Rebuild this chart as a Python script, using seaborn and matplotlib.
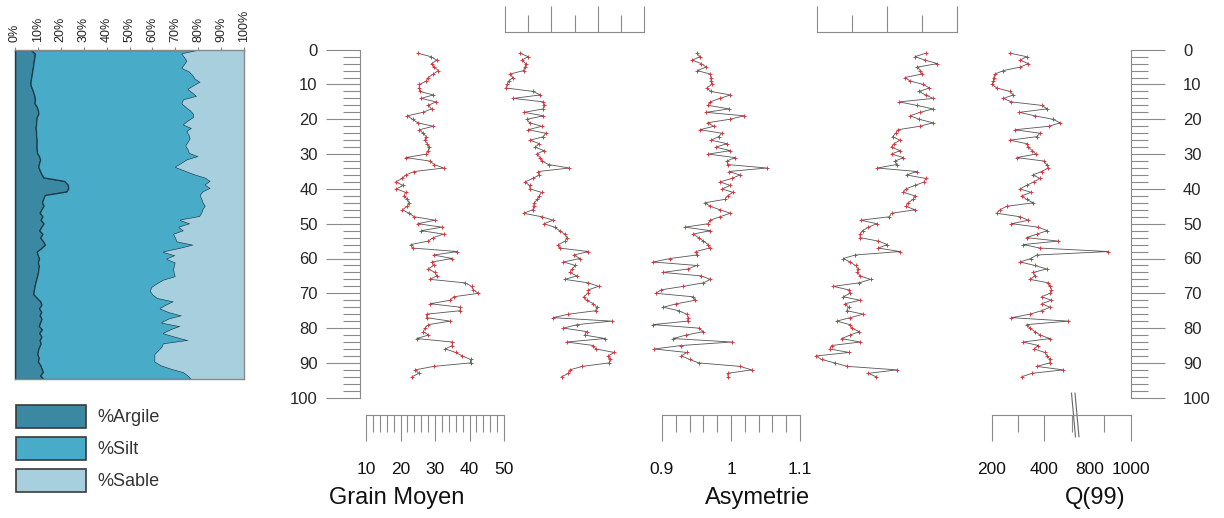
import numpy as np
import pandas as pd
import seaborn as sns
import matplotlib.pyplot as plt
from matplotlib.patches import Patch
from matplotlib.ticker import MultipleLocator

# profondeur des echantillons (cm)
profondeur = [1, 2, 3, 4, 5, 6, 7, 8, 9, 10, 11, 12, 13, 14, 15, 16, 17, 18, 19, 20,
              21, 22, 23, 24, 25, 26, 27, 28, 29, 30, 31, 32, 33, 34, 35, 36, 37, 38, 39, 40,
              41, 42, 43, 44, 45, 46, 47, 48, 49, 50, 51, 52, 53, 54, 55, 56, 57, 58, 59, 60,
              61, 62, 63, 64, 65, 66, 67, 68, 69, 70, 71, 72, 73, 74, 75, 76, 77, 78, 79, 80,
              81, 82, 83, 84, 85, 86, 87, 88, 89, 90, 91, 92, 93, 94]

# granulometrie (%)
argile = [7.0, 8.7, 8.5, 8.2, 8.0, 7.8, 7.5, 7.3, 7.0, 6.8,
          6.8, 7.5, 8.0, 8.5, 8.7, 8.5, 9.5, 10.0, 10.2, 9.5,
          9.3, 9.2, 9.0, 9.2, 9.2, 9.4, 9.5, 9.4, 9.5, 9.6,
          10.5, 11.0, 10.5, 10.2, 10.8, 11.5, 12.4, 21.5, 23.0, 23.3,
          22.5, 13.0, 12.4, 11.8, 12.5, 11.6, 10.8, 12.0, 11.2, 12.5,
          11.5, 10.6, 12.0, 11.0, 12.2, 13.1, 11.5, 9.5, 10.0, 10.5,
          10.0, 10.4, 10.2, 10.0, 9.6, 9.2, 8.8, 8.5, 8.2, 8.0,
          9.5, 11.0, 11.6, 10.5, 11.5, 10.8, 11.6, 11.0, 10.4, 11.8,
          10.6, 11.6, 10.8, 11.2, 10.5, 10.0, 9.8, 10.4, 10.0, 11.0,
          11.6, 12.2, 11.0, 12.4]
argile_silt = [80.1, 72.8, 74.0, 75.0, 74.0, 72.8, 76.0, 77.5, 78.5, 80.8,
               78.0, 75.5, 77.5, 79.3, 73.5, 72.8, 74.5, 76.5, 77.9, 77.9,
               75.5, 73.5, 77.0, 75.0, 76.0, 76.4, 75.5, 74.5, 75.5, 76.0,
               80.0, 75.0, 72.5, 70.0, 74.0, 78.0, 83.0, 85.2, 83.0, 85.2,
               82.0, 80.8, 81.5, 82.0, 83.0, 82.0, 81.5, 80.5, 72.1, 76.4,
               71.5, 73.5, 69.2, 70.0, 70.6, 77.9, 72.0, 64.7, 69.9, 66.2,
               69.9, 69.5, 69.2, 69.5, 69.9, 64.7, 62.0, 59.7, 59.0, 60.0,
               62.0, 69.2, 66.0, 63.3, 67.0, 72.8, 67.0, 64.0, 72.1, 68.0,
               64.7, 70.0, 75.7, 64.7, 64.0, 62.5, 61.0, 61.0, 61.0, 63.5,
               68.0, 73.5, 75.5, 77.0]

grain_moyen = [25.0, 28.8, 30.5, 29.0, 29.8, 31.0, 29.5, 28.0, 27.5, 25.5,
               25.4, 25.6, 29.5, 26.0, 30.3, 28.0, 29.0, 26.5, 22.0, 23.5,
               25.0, 29.5, 25.5, 26.5, 27.5, 27.0, 27.8, 28.3, 28.0, 27.5,
               21.5, 28.5, 29.8, 32.5, 24.0, 21.5, 20.5, 18.6, 20.8, 18.8,
               21.5, 21.0, 22.0, 22.5, 22.0, 20.5, 22.5, 24.0, 30.0, 25.0,
               32.0, 26.0, 32.5, 29.5, 28.0, 23.0, 23.5, 36.5, 29.6, 35.0,
               29.1, 29.6, 28.0, 30.0, 30.5, 28.6, 38.7, 40.6, 41.1, 42.6,
               35.4, 34.4, 28.6, 37.3, 37.3, 27.6, 27.6, 34.4, 28.1, 27.1,
               26.6, 28.1, 24.7, 35.0, 35.0, 33.0, 36.0, 37.9, 40.3, 40.3,
               29.6, 24.3, 25.3, 23.3]

indice_a = [1.32, 1.50, 1.36, 1.45, 1.43, 1.40, 1.11, 1.17, 1.08, 1.05,
            1.02, 1.61, 1.76, 1.18, 1.83, 1.84, 1.83, 1.41, 1.83, 1.47,
            1.53, 1.79, 1.50, 1.88, 1.83, 1.54, 1.74, 1.65, 1.84, 1.68,
            1.76, 1.80, 1.94, 2.39, 1.72, 1.74, 1.60, 1.43, 1.53, 1.54,
            1.79, 1.74, 1.70, 1.63, 1.62, 1.60, 1.40, 1.79, 2.04, 1.84,
            2.07, 2.18, 2.29, 2.34, 2.30, 2.15, 2.18, 2.80, 2.48, 2.62,
            2.26, 2.52, 2.45, 2.40, 2.55, 2.29, 2.80, 3.02, 2.80, 2.79,
            2.70, 2.76, 2.91, 2.98, 2.96, 2.37, 2.04, 3.30, 2.56, 2.26,
            2.76, 2.72, 3.16, 2.33, 2.91, 2.96, 3.36, 3.23, 3.27, 3.25,
            2.67, 2.40, 2.37, 2.22]

asymetrie = [0.950, 0.955, 0.944, 0.957, 0.964, 0.951, 0.970, 0.971, 0.971, 0.972,
             0.965, 0.971, 0.999, 0.984, 0.970, 0.967, 0.997, 0.964, 1.019, 0.998,
             0.966, 0.975, 0.955, 0.987, 0.982, 0.971, 0.994, 0.978, 0.999, 0.967,
             1.006, 0.994, 0.995, 1.052, 0.997, 1.013, 1.001, 0.984, 0.999, 0.987,
             1.003, 0.995, 0.991, 0.962, 0.970, 0.984, 0.999, 0.984, 0.970, 0.967,
             0.933, 0.970, 0.945, 0.953, 0.960, 0.967, 0.969, 0.949, 0.950, 0.912,
             0.887, 0.950, 0.938, 0.901, 0.957, 0.970, 0.960, 0.931, 0.899, 0.891,
             0.945, 0.948, 0.921, 0.902, 0.924, 0.936, 0.938, 0.937, 0.887, 0.953,
             0.960, 0.935, 0.916, 1.001, 0.928, 0.889, 0.936, 0.928, 0.940, 0.953,
             1.013, 1.030, 0.995, 0.996]

indice_b = [3.11, 2.80, 3.09, 3.44, 2.87, 2.95, 2.99, 2.51, 2.66, 3.04,
            3.21, 2.92, 3.10, 3.32, 2.35, 2.85, 3.31, 2.95, 2.66, 2.92,
            3.31, 2.94, 2.31, 2.25, 2.16, 2.37, 2.20, 2.13, 2.37, 2.13,
            2.47, 2.23, 2.28, 1.72, 2.85, 2.56, 3.11, 3.06, 2.80, 2.54,
            2.47, 2.80, 2.75, 2.60, 2.54, 2.80, 2.13, 2.07, 1.25, 1.71,
            1.47, 1.30, 1.23, 1.23, 1.75, 2.01, 1.75, 2.37, 1.09, 0.75,
            0.94, 1.10, 1.18, 1.15, 1.23, 1.53, 1.20, 0.47, 0.90, 0.94,
            0.75, 1.23, 0.80, 0.90, 0.85, 1.32, 0.95, 0.56, 0.94, 0.99,
            1.21, 0.95, 0.70, 1.23, 0.42, 0.37, 0.92, -0.03, 0.13, 0.50,
            0.87, 2.28, 1.47, 1.69]

q99 = [269, 333, 308, 340, 308, 244, 211, 207, 205, 201,
       218, 269, 282, 244, 275, 391, 413, 305, 365, 435,
       462, 420, 288, 385, 372, 269, 333, 340, 355, 369,
       295, 400, 410, 417, 391, 357, 385, 360, 333, 308,
       351, 314, 333, 359, 256, 231, 218, 308, 340, 275,
       378, 413, 372, 333, 455, 320, 385, 648, 372, 350,
       308, 365, 410, 359, 365, 346, 417, 423, 429, 423,
       391, 429, 391, 423, 391, 346, 275, 494, 333, 346,
       365, 385, 423, 320, 378, 362, 404, 413, 423, 423,
       372, 474, 353, 314]

classes = ['%Argile', '%Silt', '%Sable']
couleurs = ['#3a88a1', '#48abc8', '#a8cfdd']

sns.set_style('white')
plt.rcParams['font.family'] = ['Liberation Sans', 'DejaVu Sans']

W, H = 1224, 518
GRIS = '#8a8a8a'
fig = plt.figure(figsize=(W / 100, H / 100), dpi=100)


def cadre(x0, x1, y0=49.7, y1=397.7):
    return [x0 / W, 1 - y1 / H, (x1 - x0) / W, (y1 - y0) / H]


def courbe(ax, valeurs):
    sns.lineplot(x=valeurs, y=profondeur, sort=False, estimator=None, ax=ax,
                 color='#555555', lw=0.6, marker='+', ms=3.2,
                 mec='#d8383f', mew=0.7, clip_on=False)
    ax.set_ylim(100, 0)
    ax.set_xlabel('')
    ax.set_ylabel('')
    ax.set_yticks([])
    ax.patch.set_alpha(0)
    for s in ax.spines.values():
        s.set_visible(False)


def echelle(ax, cote, majeurs, mineurs, etiquettes=None):
    sp = ax.spines[cote]
    sp.set_visible(True)
    sp.set_color(GRIS)
    sp.set_linewidth(0.8)
    sp.set_position(('outward', 12.5))
    ax.set_xticks(majeurs, etiquettes if etiquettes else [''] * len(majeurs))
    ax.set_xticks(mineurs, minor=True)
    haut = cote == 'top'
    ax.tick_params(axis='x', which='both', top=haut, bottom=not haut,
                   labeltop=False, labelbottom=not haut, direction='out',
                   width=0.8, color=GRIS)
    ax.tick_params(axis='x', which='major', length=19, pad=15,
                   labelsize=12.5, labelcolor='#111111')
    ax.tick_params(axis='x', which='minor', length=12.5)


# --- panneau granulometrique ---
ax_s = fig.add_axes([15 / W, 1 - 379 / H, 229 / W, 329 / H])
ax_s.fill_betweenx(profondeur, 0, argile, facecolor=couleurs[0],
                   edgecolor='#1c3a48', lw=0.9)
ax_s.fill_betweenx(profondeur, argile, argile_silt, facecolor=couleurs[1],
                   edgecolor='#1c3a48', lw=0.9)
ax_s.fill_betweenx(profondeur, argile_silt, 100, facecolor=couleurs[2], lw=0)
ax_s.set_xlim(0, 100)
ax_s.set_ylim(94, 1)
ax_s.set_yticks([])
ax_s.set_xticks(range(0, 101, 10), [f'{v}%' for v in range(0, 101, 10)])
ax_s.tick_params(axis='x', top=True, bottom=False, labeltop=True,
                 labelbottom=False, direction='inout', length=5, width=0.8,
                 color=GRIS, pad=3, labelsize=9, labelrotation=90,
                 labelcolor='#222222')
for nom, s in ax_s.spines.items():
    s.set_color('#1c3a48' if nom == 'left' else GRIS)
    s.set_linewidth(1.0)

fig.legend(handles=[Patch(facecolor=c, edgecolor='#3a3a3a', lw=1.2, label=l)
                    for c, l in zip(couleurs, classes)],
           loc='upper left', bbox_to_anchor=(16 / W, 1 - 405 / H),
           frameon=False, fontsize=13, handlelength=3.9, handleheight=1.55,
           labelspacing=0.52, handletextpad=0.6, borderpad=0, borderaxespad=0,
           labelcolor='#333333')

# --- axe de profondeur gauche ---
ax_d = fig.add_axes(cadre(360, 361))
ax_d.set_ylim(100, 0)
ax_d.set_xticks([])
ax_d.set_yticks(range(0, 101, 10))
ax_d.yaxis.set_minor_locator(MultipleLocator(2))
ax_d.tick_params(axis='y', which='both', left=True, width=0.8, color=GRIS)
ax_d.tick_params(axis='y', which='major', length=24.5, pad=6, labelsize=12)
ax_d.tick_params(axis='y', which='minor', length=12.2)
ax_d.patch.set_alpha(0)
for nom, s in ax_d.spines.items():
    s.set_visible(nom == 'left')
    s.set_color(GRIS)
    s.set_linewidth(0.8)

# --- Grain Moyen ---
ax_g = fig.add_axes(cadre(366, 504))
courbe(ax_g, grain_moyen)
ax_g.set_xlim(10, 50)
echelle(ax_g, 'bottom', [10, 20, 30, 40, 50], [], ['10', '20', '30', '40', '50'])
ax_g.xaxis.set_minor_locator(MultipleLocator(2))

# --- indice a (echelle en haut) ---
ax_a = fig.add_axes(cadre(505, 644))
courbe(ax_a, indice_a)
ax_a.set_xlim(1, 4)
echelle(ax_a, 'top', [1, 2, 3, 4], [1.5, 2.5, 3.5])

# --- Asymetrie ---
ax_y = fig.add_axes(cadre(662, 800))
courbe(ax_y, asymetrie)
ax_y.set_xlim(0.9, 1.1)
echelle(ax_y, 'bottom', [0.9, 1.0, 1.1], [], ['0.9', '1', '1.1'])
ax_y.xaxis.set_minor_locator(MultipleLocator(0.02))

# --- indice b (echelle en haut) ---
ax_b = fig.add_axes(cadre(817, 957))
courbe(ax_b, indice_b)
ax_b.set_xlim(0, 4)
echelle(ax_b, 'top', [0, 2, 4], [1, 3])

# --- Q(99) ---
ax_q = fig.add_axes(cadre(992, 1131))
courbe(ax_q, q99)
ax_q.set_xlim(200, 735)
echelle(ax_q, 'bottom', [200, 400, 577, 735], [300, 508, 631],
        ['200', '400', '800', '1000'])
ax_q.xaxis.get_major_ticks()[2].tick1line.set_visible(False)
ax_q.set_yticks(range(0, 101, 10))
ax_q.yaxis.set_minor_locator(MultipleLocator(2))
ax_q.tick_params(axis='y', which='both', left=False, right=True,
                 labelleft=False, labelright=True, width=0.8, color=GRIS)
ax_q.tick_params(axis='y', which='major', length=24.5, pad=13, labelsize=12)
ax_q.tick_params(axis='y', which='minor', length=12.2)
ax_q.spines['right'].set_visible(True)
ax_q.spines['right'].set_color(GRIS)
ax_q.spines['right'].set_linewidth(0.8)
# coupure d'axe
for dx in (0, 3.5):
    ax_q.plot([(1071.5 + dx) / W, (1075.5 + dx) / W], [1 - 393 / H, 1 - 437 / H],
              transform=fig.transFigure, clip_on=False, color='#666666', lw=0.8)

# --- titres ---
for x, t in [(397, 'Grain Moyen'), (758, 'Asymetrie'), (1095, 'Q(99)')]:
    fig.text(x / W, 1 - 498 / H, t, ha='center', va='center', fontsize=17,
             color='#111111')

fig.savefig('out.png', dpi=100)
